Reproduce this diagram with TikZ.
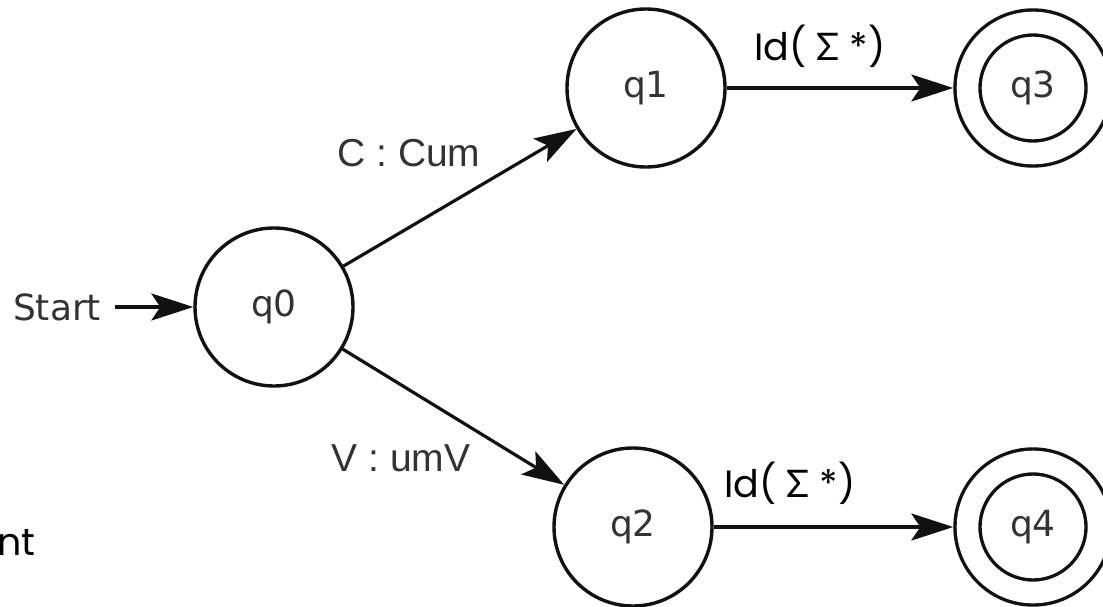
\documentclass[tikz,border=0pt]{standalone}
\usepackage{fontspec}
\setmainfont{DejaVu Sans}
\newfontfamily\edgefont{Liberation Sans}
\newfontfamily\idfont{Poppins}
\newfontfamily\sigmafont{Lato}
\usetikzlibrary{arrows.meta}
\definecolor{ink}{HTML}{111111}
\definecolor{txt}{HTML}{333333}

\tikzset{
  state/.style={circle, draw=ink, line width=3.4pt, minimum size=158pt,
    inner sep=0pt, text=txt, font=\fontsize{36}{40}\selectfont},
  accepting/.style={state, double, double distance=21.6pt, minimum size=131pt,
    outer sep=14.2pt},
  trans/.style={-{Stealth[length=42pt, width=27pt, inset=9pt]},
    line width=3.2pt, draw=ink},
  translabel/.style={text=txt, font=\edgefont\fontsize{39}{44}\selectfont},
  idlabel/.style={text=black, font=\idfont\fontsize{38}{44}\selectfont},
}

\begin{document}
\begin{tikzpicture}[x=1pt, y=-1pt]
  \useasboundingbox (0,0) rectangle (1103,607);

  % States
  \node[state] (q0) at (274,307) {q0};
  \node[state] (q1) at (646,88) {q1};
  \node[state] (q2) at (633,527) {q2};
  \node[accepting] (q3) at (1033,88) {q3};
  \node[accepting] (q4) at (1033,527) {q4};

  % Start arrow
  \node[text=txt, font=\fontsize{36}{40}\selectfont, inner sep=14pt]
    (start) at (57,307) {Start};
  \draw[trans] (start) -- (q0);

  % Transitions
  \draw[trans] (q0) -- (q1);
  \draw[trans] (q0) -- (q2);
  \draw[trans] (q1) -- (q3);
  \draw[trans] (q2) -- (q4);

  % Transition labels
  \node[translabel] (lcum) at (409,153) {C : Cum};
  \node[translabel] (lumv) at (401,458) {V : umV};
  \node[idlabel] (id1) at (820,46) {Id( {\sigmafont Σ} *)};
  \node[idlabel] (id2) at (790,483) {Id( {\sigmafont Σ} *)};

  % Word running off the left edge
  \node[idlabel, anchor=base east, inner sep=0pt] (nt) at (36,555) {nt};
\end{tikzpicture}
\end{document}
